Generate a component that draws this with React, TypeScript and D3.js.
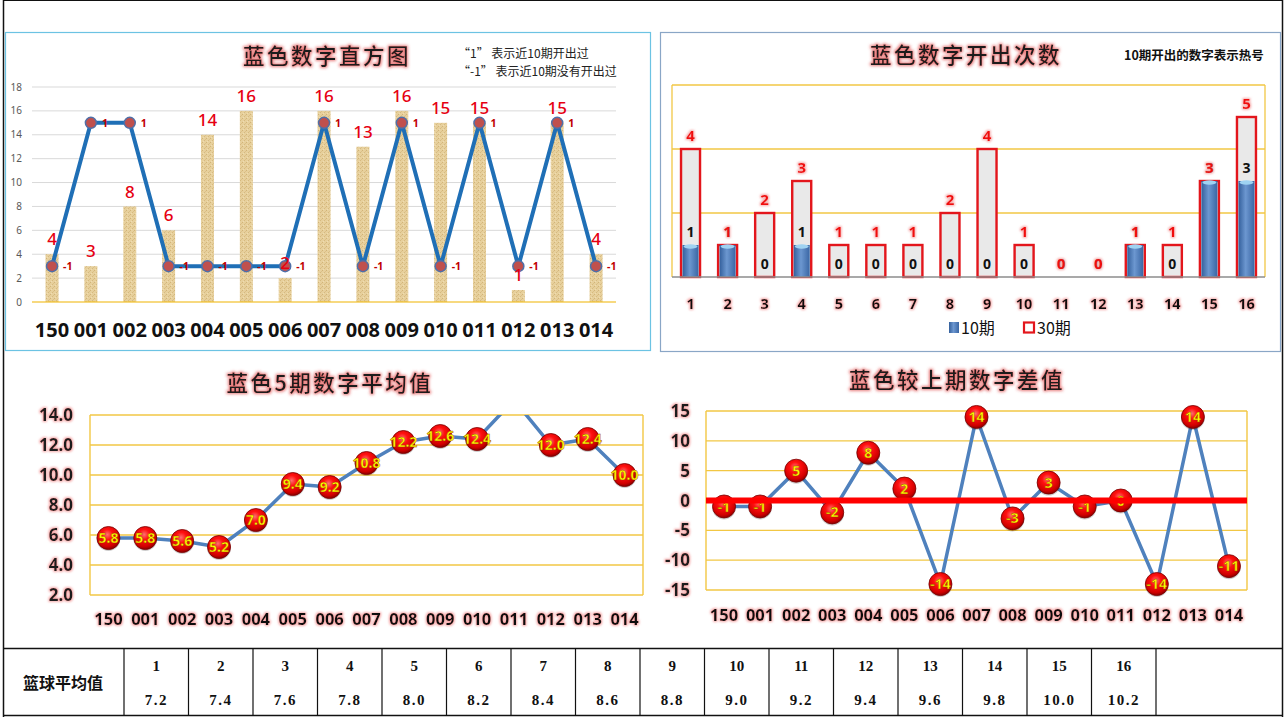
import React from "react";
import * as d3 from "d3";

const periods = ["150", "001", "002", "003", "004", "005", "006", "007", "008", "009", "010", "011", "012", "013", "014"];
const blueNumbers = [4, 3, 8, 6, 14, 16, 2, 16, 13, 16, 15, 15, 1, 15, 4];
const hitFlags = [-1, 1, 1, -1, -1, -1, -1, 1, -1, 1, -1, 1, -1, 1, -1];
const histTicks = [0, 2, 4, 6, 8, 10, 12, 14, 16, 18];

const numberLabels = ["1", "2", "3", "4", "5", "6", "7", "8", "9", "10", "11", "12", "13", "14", "15", "16"];
const count10 = [1, 1, 0, 1, 0, 0, 0, 0, 0, 0, 0, 0, 1, 0, 3, 3];
const count30 = [4, 1, 2, 3, 1, 1, 1, 2, 4, 1, 0, 0, 1, 1, 3, 5];
const countTicks = [2, 4, 6];

const avg5 = [5.8, 5.8, 5.6, 5.2, 7.0, 9.4, 9.2, 10.8, 12.2, 12.6, 12.4, 15.0, 12.0, 12.4, 10.0];
const avgTicks = [2, 4, 6, 8, 10, 12, 14];

const diffs = [-1, -1, 5, -2, 8, 2, -14, 14, -3, 3, -1, 0, -14, 14, -11];
const diffTicks = [-15, -10, -5, 0, 5, 10, 15];

const tableAvg = ["7.2", "7.4", "7.6", "7.8", "8.0", "8.2", "8.4", "8.6", "8.8", "9.0", "9.2", "9.4", "9.6", "9.8", "10.0", "10.2"];

const NUM = "'Noto Sans', 'DejaVu Sans', sans-serif";
const CJK = "'Noto Sans CJK SC', 'Noto Sans', sans-serif";
const SERIF = "'Liberation Serif', 'DejaVu Serif', serif";
const GOLD = "#f2c744";

function Title({ x, y, text }: { x: number; y: number; text: string }) {
  return (
    <text x={x} y={y} textAnchor="middle" fontFamily={CJK} fontWeight={500} fontSize={21.5} letterSpacing={2.5} fill="#1e1e1e" filter="url(#glowTitle)">
      {text}
    </text>
  );
}

function HistChart() {
  const xH = d3.scaleBand<string>().domain(periods).range([32.6, 615.5]);
  const yH = d3.scaleLinear().domain([0, 18]).range([302, 87]);
  const yF = d3.scaleLinear().domain([-1.5, 1.5]).range([302, 87]);
  const cx = (i: number) => (xH(periods[i]) as number) + xH.bandwidth() / 2;
  const line = d3.line<number>().x((_, i) => cx(i)).y((d) => yF(d));
  const bw = 13;
  return (
    <g>
      <rect x={5.5} y={32.5} width={645} height={318} fill="#fff" stroke="#6cc3e3" strokeWidth={1.2} />
      <Title x={327} y={64} text="蓝色数字直方图" />
      <text x={458} y={58} fontFamily={CJK} fontSize={12} fill="#222">“1” 表示近10期开出过</text>
      <text x={458} y={76} fontFamily={CJK} fontSize={12} fill="#222">“-1” 表示近10期没有开出过</text>
      {histTicks.map((t) => (
        <g key={t}>
          {t > 0 && <line x1={32} x2={616} y1={yH(t)} y2={yH(t)} stroke="#d9d9d9" strokeWidth={1} />}
          <text x={22} y={yH(t)} dy="0.35em" textAnchor="end" fontFamily={NUM} fontSize={10} fill="#595959">{t}</text>
        </g>
      ))}
      {blueNumbers.map((v, i) => (
        <rect key={i} x={cx(i) - bw / 2} y={yH(v)} width={bw} height={yH(0) - yH(v)} fill="url(#burlap)" />
      ))}
      <line x1={32} x2={616} y1={yH(0)} y2={yH(0)} stroke="#f0b400" strokeWidth={1.2} />
      <path d={line(hitFlags) || ""} fill="none" stroke="#1f6fb6" strokeWidth={4} strokeLinejoin="round" />
      {hitFlags.map((f, i) => (
        <circle key={i} cx={cx(i)} cy={yF(f)} r={5.5} fill="#c0504d" stroke="#4f6fa8" strokeWidth={1.5} />
      ))}
      {hitFlags.map((f, i) => (
        <text key={i} x={cx(i) + 11} y={yF(f)} dy="0.36em" fontFamily={NUM} fontWeight={700} fontSize={10.5} fill="#c00000">{f}</text>
      ))}
      {blueNumbers.map((v, i) => (
        <text key={i} x={cx(i)} y={yH(v) - 15} dy="0.36em" textAnchor="middle" fontFamily={NUM} fontWeight={500} fontSize={17} fill="#e60012">{v}</text>
      ))}
      {periods.map((p, i) => (
        <text key={p} x={cx(i)} y={337} textAnchor="middle" fontFamily={NUM} fontWeight={700} fontSize={20} fill="#111">{p}</text>
      ))}
    </g>
  );
}

function CountChart() {
  const xC = d3.scaleBand<string>().domain(numberLabels).range([672, 1265]);
  const yC = d3.scaleLinear().domain([0, 6]).range([277, 85]);
  const cx = (i: number) => (xC(numberLabels[i]) as number) + xC.bandwidth() / 2;
  const rw = 19;
  const bw = 16;
  return (
    <g>
      <rect x={660.5} y={32.5} width={620} height={319} fill="#fff" stroke="#8aa6c6" strokeWidth={1.2} />
      <Title x={966} y={63} text="蓝色数字开出次数" />
      <text x={1194} y={60} textAnchor="middle" fontFamily={CJK} fontWeight={700} fontSize={12.5} fill="#111">10期开出的数字表示热号</text>
      {countTicks.map((t) => (
        <line key={t} x1={672} x2={1265} y1={yC(t)} y2={yC(t)} stroke={GOLD} strokeWidth={1.3} />
      ))}
      <line x1={672} x2={672} y1={yC(6)} y2={yC(0)} stroke={GOLD} strokeWidth={1.3} />
      <line x1={1265} x2={1265} y1={yC(6)} y2={yC(0)} stroke={GOLD} strokeWidth={1.3} />
      {count30.map((v, i) =>
        v > 0 ? (
          <rect key={i} x={cx(i) - rw / 2} y={yC(v)} width={rw} height={yC(0) - yC(v)} fill="#e9e9e9" stroke="#e3161c" strokeWidth={2.4} />
        ) : null
      )}
      {count10.map((v, i) =>
        v > 0 ? (
          <g key={i}>
            <rect x={cx(i) - bw / 2} y={yC(v)} width={bw} height={yC(0) - yC(v)} fill="url(#blueBar)" />
            <ellipse cx={cx(i)} cy={yC(v) + 1.5} rx={bw / 2 - 1} ry={2.2} fill="#9fd3f2" />
          </g>
        ) : null
      )}
      <line x1={672} x2={1265} y1={yC(0)} y2={yC(0)} stroke="#8c8c8c" strokeWidth={1.3} />
      {count10.map((v, i) => (
        <text key={i} x={cx(i)} y={yC(v) - 13} dy="0.36em" textAnchor="middle" fontFamily={NUM} fontWeight={700} fontSize={14} fill="#111">{v}</text>
      ))}
      {count30.map((v, i) => (
        <text key={i} x={cx(i)} y={yC(v) - 13} dy="0.36em" textAnchor="middle" fontFamily={NUM} fontWeight={700} fontSize={15} fill="#f01010" filter="url(#glowSoft)">{v}</text>
      ))}
      {numberLabels.map((n, i) => (
        <text key={n} x={cx(i)} y={309} textAnchor="middle" fontFamily={NUM} fontWeight={700} fontSize={14.5} fill="#111" filter="url(#glowSoft)">{n}</text>
      ))}
      <rect x={949} y={322} width={10} height={11} fill="url(#blueBar)" />
      <text x={961} y={334} fontFamily={CJK} fontSize={16} fill="#111">10期</text>
      <rect x={1024} y={322.5} width={10} height={10} fill="#fff" stroke="#e3161c" strokeWidth={2.2} />
      <text x={1037} y={334} fontFamily={CJK} fontSize={16} fill="#111">30期</text>
    </g>
  );
}

function Ball({ x, y, label }: { x: number; y: number; label: string }) {
  return (
    <g>
      <circle cx={x} cy={y + 1.2} r={11.8} fill="#000" opacity={0.2} />
      <circle cx={x} cy={y} r={11.5} fill="url(#redBall)" stroke="#7a0000" strokeWidth={0.8} />
      <text x={x} y={y} dy="0.36em" textAnchor="middle" fontFamily={NUM} fontWeight={700} fontSize={14} fill="#ffff00" stroke="#9a3000" strokeWidth={0.4}>{label}</text>
    </g>
  );
}

function AvgChart() {
  const xA = d3.scaleBand<string>().domain(periods).range([90, 643]);
  const yA = d3.scaleLinear().domain([2, 14]).range([595, 415]);
  const cx = (i: number) => (xA(periods[i]) as number) + xA.bandwidth() / 2;
  const line = d3.line<number>().x((_, i) => cx(i)).y((d) => yA(d));
  return (
    <g>
      <Title x={330} y={391} text="蓝色5期数字平均值" />
      {avgTicks.map((t) => (
        <g key={t}>
          <line x1={90} x2={643} y1={yA(t)} y2={yA(t)} stroke={GOLD} strokeWidth={1.4} />
          <text x={73} y={yA(t)} dy="0.36em" textAnchor="end" fontFamily={NUM} fontWeight={700} fontSize={17} fill="#1a1a1a" filter="url(#glowSoft)">{t.toFixed(1)}</text>
        </g>
      ))}
      <line x1={90} x2={90} y1={415} y2={595} stroke={GOLD} strokeWidth={1.4} />
      <line x1={643} x2={643} y1={415} y2={595} stroke={GOLD} strokeWidth={1.4} />
      <path d={line(avg5) || ""} fill="none" stroke="#4f81bd" strokeWidth={3.5} strokeLinejoin="round" clipPath="url(#clipAvg)" />
      {avg5.map((v, i) => (v <= 14 ? <Ball key={i} x={cx(i)} y={yA(v)} label={v.toFixed(1)} /> : null))}
      {periods.map((p, i) => (
        <text key={p} x={cx(i)} y={625} textAnchor="middle" fontFamily={NUM} fontWeight={700} fontSize={16.5} fill="#111" filter="url(#glowSoft)">{p}</text>
      ))}
    </g>
  );
}

function DiffChart() {
  const xD = d3.scaleBand<string>().domain(periods).range([706, 1247]);
  const yD = d3.scaleLinear().domain([-15, 15]).range([590, 411]);
  const cx = (i: number) => (xD(periods[i]) as number) + xD.bandwidth() / 2;
  const line = d3.line<number>().x((_, i) => cx(i)).y((d) => yD(d));
  return (
    <g>
      <Title x={957} y={388} text="蓝色较上期数字差值" />
      {diffTicks.map((t) => (
        <g key={t}>
          <line x1={706} x2={1247} y1={yD(t)} y2={yD(t)} stroke={GOLD} strokeWidth={1.4} />
          <text x={690} y={yD(t)} dy="0.36em" textAnchor="end" fontFamily={NUM} fontWeight={700} fontSize={17} fill="#1a1a1a" filter="url(#glowSoft)">{t}</text>
        </g>
      ))}
      <line x1={706} x2={706} y1={411} y2={590} stroke={GOLD} strokeWidth={1.4} />
      <line x1={1247} x2={1247} y1={411} y2={590} stroke={GOLD} strokeWidth={1.4} />
      <path d={line(diffs) || ""} fill="none" stroke="#4f81bd" strokeWidth={3.5} strokeLinejoin="round" />
      {diffs.map((v, i) => (
        <Ball key={i} x={cx(i)} y={yD(v)} label={String(v)} />
      ))}
      <line x1={706} x2={1247} y1={yD(0)} y2={yD(0)} stroke="#ff0000" strokeWidth={6} />
      {periods.map((p, i) => (
        <text key={p} x={cx(i)} y={621} textAnchor="middle" fontFamily={NUM} fontWeight={700} fontSize={16.5} fill="#111" filter="url(#glowSoft)">{p}</text>
      ))}
    </g>
  );
}

function AvgTable() {
  const xT = d3.scaleBand<string>().domain(numberLabels).range([124, 1156]);
  const top = 648.5;
  const bottom = 715.5;
  return (
    <g>
      <line x1={3} x2={1283} y1={top} y2={top} stroke="#111" strokeWidth={1.5} />
      <line x1={3} x2={1283} y1={bottom} y2={bottom} stroke="#111" strokeWidth={1.5} />
      <text x={63} y={689} textAnchor="middle" fontFamily={CJK} fontWeight={700} fontSize={16} fill="#111">篮球平均值</text>
      {numberLabels.map((n, i) => {
        const x0 = xT(n) as number;
        const c = x0 + xT.bandwidth() / 2;
        return (
          <g key={n}>
            <line x1={x0} x2={x0} y1={top} y2={bottom} stroke="#111" strokeWidth={1.2} />
            <text x={c} y={671} textAnchor="middle" fontFamily={SERIF} fontWeight={700} fontSize={15} fill="#111">{n}</text>
            <text x={c} y={705} textAnchor="middle" fontFamily={SERIF} fontWeight={700} fontSize={15} letterSpacing={1.5} fill="#111">{tableAvg[i]}</text>
          </g>
        );
      })}
      <line x1={1156} x2={1156} y1={top} y2={bottom} stroke="#111" strokeWidth={1.2} />
    </g>
  );
}

export default function App() {
  return (
    <svg width={1287} height={717} style={{ position: "absolute", left: 0, top: 0, background: "#fff" }}>
      <defs>
        <filter id="glowTitle" x="-20%" y="-50%" width="140%" height="200%">
          <feMorphology in="SourceAlpha" operator="dilate" radius="1.2" result="d" />
          <feGaussianBlur in="d" stdDeviation="1.8" result="b" />
          <feFlood floodColor="#e04848" floodOpacity="0.7" />
          <feComposite in2="b" operator="in" result="g" />
          <feMerge>
            <feMergeNode in="g" />
            <feMergeNode in="SourceGraphic" />
          </feMerge>
        </filter>
        <filter id="glowSoft" x="-30%" y="-50%" width="160%" height="200%">
          <feMorphology in="SourceAlpha" operator="dilate" radius="1" result="d" />
          <feGaussianBlur in="d" stdDeviation="1.2" result="b" />
          <feFlood floodColor="#f07878" floodOpacity="0.6" />
          <feComposite in2="b" operator="in" result="g" />
          <feMerge>
            <feMergeNode in="g" />
            <feMergeNode in="SourceGraphic" />
          </feMerge>
        </filter>
        <pattern id="burlap" width="4" height="4" patternUnits="userSpaceOnUse">
          <rect width="4" height="4" fill="#e7d09c" />
          <rect x="0" y="0" width="1" height="1" fill="#d6ba80" />
          <rect x="2" y="2" width="1" height="1" fill="#d2b478" />
          <rect x="3" y="1" width="1" height="1" fill="#efdcb2" />
          <rect x="1" y="3" width="1" height="1" fill="#dbc08a" />
        </pattern>
        <linearGradient id="blueBar" x1="0" x2="1" y1="0" y2="0">
          <stop offset="0%" stopColor="#34609c" />
          <stop offset="45%" stopColor="#6c97d0" />
          <stop offset="100%" stopColor="#3a66a4" />
        </linearGradient>
        <radialGradient id="redBall" cx="45%" cy="35%" r="65%">
          <stop offset="0%" stopColor="#ff7070" />
          <stop offset="35%" stopColor="#ff1010" />
          <stop offset="80%" stopColor="#d00000" />
          <stop offset="100%" stopColor="#8a0000" />
        </radialGradient>
        <clipPath id="clipAvg">
          <rect x={60} y={415} width={620} height={200} />
        </clipPath>
      </defs>
      <rect x={0} y={0} width={1287} height={717} fill="#fff" />
      <line x1={3} x2={1283} y1={0.5} y2={0.5} stroke="#111" strokeWidth={1.2} />
      <line x1={3.5} x2={3.5} y1={0} y2={717} stroke="#111" strokeWidth={1.5} />
      <line x1={1282.5} x2={1282.5} y1={0} y2={717} stroke="#111" strokeWidth={1.5} />
      <HistChart />
      <CountChart />
      <AvgChart />
      <DiffChart />
      <AvgTable />
    </svg>
  );
}
